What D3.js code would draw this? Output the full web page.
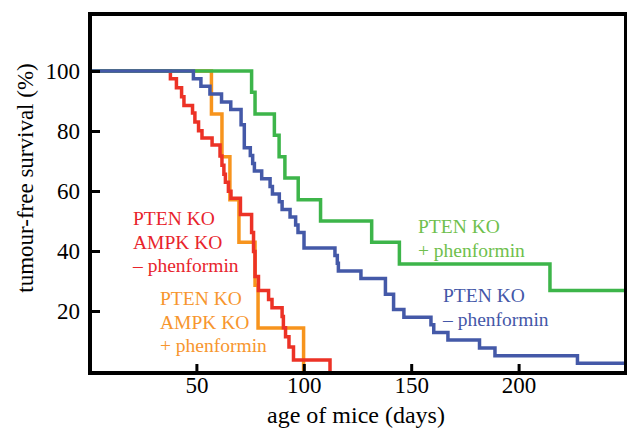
<!DOCTYPE html>
<html><head><meta charset="utf-8">
<script src="https://cdn.jsdelivr.net/npm/d3@7"></script>
<style>
html,body{margin:0;padding:0;background:#fff;}
svg{display:block;font-family:"Liberation Serif","Times New Roman",serif;}
</style></head>
<body><svg id="c" width="627" height="429"></svg>
<script>
// ---- data (days, % tumour-free) ----
const redDays = [0, 37.9, 40.7, 43.1, 44.2, 48.2, 49.3, 51.0, 52.6, 57.3, 61.0, 61.9, 62.8, 63.5, 64.9, 66.1, 70.5, 75.7, 76.6, 77.3, 78.9, 83.6, 85.2, 89.9, 90.5, 91.5, 93.1, 95.2, 112.2];
const redSurv = [100, 97.4, 94.4, 91.4, 88.5, 86.0, 83.0, 80.1, 77.7, 75.3, 71.7, 68.6, 65.6, 62.9, 59.9, 57.6, 52.2, 46.2, 39.8, 31.5, 26.8, 23.8, 21.1, 18.2, 14.4, 11.4, 8.0, 3.7, 0];
const orangeDays = [0, 57.0, 61.9, 65.6, 69.8, 77.3, 78.7, 99.9];
const orangeSurv = [100, 85.7, 71.4, 57.1, 42.9, 28.6, 14.3, 0];
const greenDays = [0, 75.7, 77.3, 86.3, 88.5, 91.2, 97.4, 107.8, 131.6, 144.5, 214.6, 250];
const greenSurv = [100, 92.9, 85.7, 78.6, 71.4, 64.3, 57.1, 50, 42.9, 35.7, 26.8, 26.8];
const blueDays = [0, 48.6, 52.1, 56.3, 61.7, 66.0, 70.8, 72.3, 75.1, 76.2, 77.0, 80.4, 84.3, 85.4, 88.6, 89.9, 93.6, 96.2, 97.3, 100.1, 114.5, 115.6, 116.1, 126.6, 138.0, 141.8, 146.6, 159.2, 160.5, 167.1, 181.8, 189.0, 227.4, 250];
const blueSurv = [100, 97.4, 94.9, 92.3, 89.7, 87.2, 82.1, 74.4, 71.8, 69.2, 66.7, 64.1, 61.5, 59.0, 56.4, 53.8, 51.3, 48.7, 46.2, 41.0, 38.5, 35.9, 33.3, 30.8, 25.6, 20.5, 17.9, 15.4, 12.8, 10.3, 7.7, 5.1, 2.6, 2.6];
const xTicks = [50, 100, 150, 200];
const yTicks = [20, 40, 60, 80, 100];
const xLabel = "age of mice (days)";
const yLabel = "tumour-free survival (%)";

const svg = d3.select("#c");
const x = d3.scaleLinear().domain([0, 250]).range([89, 626]);
const y = d3.scaleLinear().domain([0, 120]).range([371, 11]);

const series = [
  {days: orangeDays, surv: orangeSurv, color: "#f7941d"},
  {days: redDays, surv: redSurv, color: "#ec3226"},
  {days: greenDays, surv: greenSurv, color: "#3db54a"},
  {days: blueDays, surv: blueSurv, color: "#4459a8"}
];
const line = d3.line().x(d => x(d[0])).y(d => y(d[1])).curve(d3.curveStepAfter);
series.forEach(s => {
  const pts = s.days.map((d, i) => [d, s.surv[i]]);
  svg.append("path").attr("d", line(pts)).attr("fill", "none")
    .attr("stroke", s.color).attr("stroke-width", 3.5);
});

// frame
svg.append("rect").attr("x", 90).attr("y", 14).attr("width", 536).attr("height", 359)
  .attr("fill", "none").attr("stroke", "#000").attr("stroke-width", 4);

// axes
const gx = svg.append("g").attr("transform", "translate(0,373)")
  .call(d3.axisBottom(x).tickValues(xTicks).tickSize(-9).tickPadding(4));
const gy = svg.append("g").attr("transform", "translate(90,0)")
  .call(d3.axisLeft(y).tickValues(yTicks).tickSize(-10).tickPadding(10));
[gx, gy].forEach(g => {
  g.select(".domain").remove();
  g.selectAll(".tick line").attr("stroke", "#000").attr("stroke-width", 3);
  g.selectAll(".tick text").attr("fill", "#000").style("font-size", "23px")
    .style("font-family", "'Liberation Serif','Times New Roman',serif");
});

svg.append("text").attr("x", 356).attr("y", 423).attr("text-anchor", "middle")
  .style("font-size", "24px").text(xLabel);
svg.append("text").attr("transform", "translate(33,178) rotate(-90)").attr("text-anchor", "middle")
  .style("font-size", "23px").text(yLabel);

// annotations
const notes = [
  {x: 133, y: 225, color: "#e8242c", lines: ["PTEN KO", "AMPK KO", "\u2013 phenformin"]},
  {x: 160, y: 305, color: "#f7962e", lines: ["PTEN KO", "AMPK KO", "+ phenformin"]},
  {x: 418, y: 233, color: "#6fbf4d", lines: ["PTEN KO", "+ phenformin"]},
  {x: 443, y: 302, color: "#4457a8", lines: ["PTEN KO", "\u2013 phenformin"]}
];
notes.forEach(n => {
  n.lines.forEach((t, i) => {
    svg.append("text").attr("x", n.x).attr("y", n.y + i * 23.5)
      .attr("fill", n.color).style("font-size", "19.5px").text(t);
  });
});
</script></body></html>
